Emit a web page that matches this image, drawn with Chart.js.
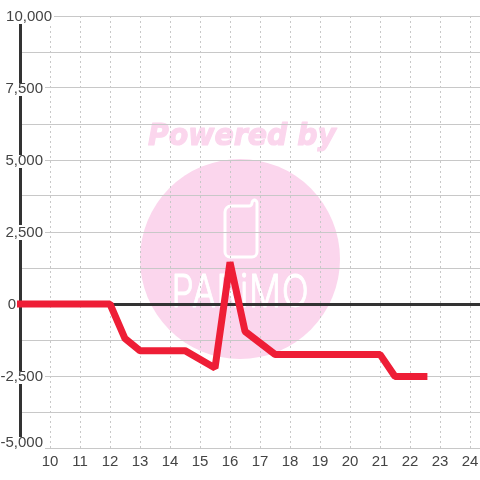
<!DOCTYPE html>
<html><head><meta charset="utf-8">
<style>html,body{margin:0;padding:0;background:#fff}#w{width:480px;height:480px;position:relative}</style>
<script src="https://cdn.jsdelivr.net/npm/chart.js@4"></script></head>
<body><div id="w"><canvas id="c" width="480" height="480"></canvas></div>
<script>
const hours = [8.9, 12, 12.5, 13, 14.5, 15.5, 16, 16.5, 17.5, 21, 21.5, 22.58];
const values = [0, 0, -1200, -1620, -1620, -2220, 1450, -950, -1750, -1750, -2520, -2520];
const yTickLabels = {"10000":"10,000","7500":"7,500","5000":"5,000","2500":"2,500","0":"0","-2500":"-2,500","-5000":"-5,000"};
const xTickLabels = [10,11,12,13,14,15,16,17,18,19,20,21,22,23,24];
const watermarkTop = "Powered by";
const watermarkLogo = "PARiMO";

const PINK = "#fbd6ed";
const watermark = {
  id: "watermark",
  beforeDraw(chart) {
    const c = chart.ctx; c.save();
    c.fillStyle = "#fff"; c.fillRect(0,0,480,480);
    c.fillStyle = PINK;
    c.beginPath(); c.arc(240,259,100,0,Math.PI*2); c.fill();
    c.font = "italic bold 30px 'DejaVu Sans'";
    c.textAlign = "center"; c.textBaseline = "alphabetic";
    c.save();
    c.translate(242,145); c.scale(0.945,1);
    c.strokeStyle = PINK; c.lineWidth = 1.2; c.lineJoin = "round";
    c.strokeText(watermarkTop,0,0);
    c.fillText(watermarkTop,0,0);
    c.restore();
    c.strokeStyle = "#fff"; c.lineWidth = 3; c.lineJoin="round"; c.lineCap="round";
    c.beginPath(); c.moveTo(232,206); c.lineTo(247,206); c.arcTo(252,206,252,203,3);
    c.arcTo(252,200,255,200,3); c.arcTo(257,200,257,203,3);
    c.lineTo(257,251); c.arcTo(257,257,251,257,5); c.lineTo(231,257); c.arcTo(225,257,225,251,5);
    c.lineTo(225,212); c.arcTo(225,206,232,206,6); c.stroke();
    c.fillStyle = "#fff"; c.strokeStyle = "#fff"; c.lineWidth = 0.9;
    c.save();
    c.translate(240.5,307); c.scale(0.79,1);
    c.font = "300 45px Inter";
    c.letterSpacing = "1px";
    c.textAlign = "center";
    c.strokeText(watermarkLogo,0,0);
    c.fillText(watermarkLogo,0,0);
    c.restore();
    c.restore();
  }
};
const yLabels = {
  id: "yLabels",
  afterDraw(chart) {
    const c = chart.ctx, s = chart.scales.y; c.save();
    c.font = "15px 'Liberation Sans'"; c.textBaseline = "middle"; c.textAlign = "right";
    s.ticks.forEach(t => {
      if (!t.label) return;
      const w = c.measureText(t.label).width;
      let y = s.getPixelForValue(t.value), r = 43;
      if (t.value === 10000) r = 52;
      if (t.value === 0) r = 16;
      if (t.value === -5000) y -= 6;
      c.fillStyle = "#fff";
      if (t.value !== 0) c.fillRect(r-w-1, y-5-(t.value===2500?2:0), w+3, 13+(t.value===2500?2:0));
      c.fillStyle = "#444"; c.fillText(t.label, r, y+1);
    });
    c.restore();
  }
};
new Chart(document.getElementById("c"), {
  type: "line",
  data: { datasets: [{
    data: hours.map((h,i)=>({x:h,y:values[i]})),
    borderColor: "#ee1e36", borderWidth: 7, pointRadius: 0, tension: 0, clip: false,
    borderJoinStyle: "bevel", borderCapStyle: "butt", fill: false
  }]},
  options: {
    responsive: false, animation: false,
    layout: { padding: { left: 20, top: 16, right: 0, bottom: 0 } },
    plugins: { legend:{display:false}, tooltip:{enabled:false} },
    scales: {
      x: { type:"linear", min:9, max:24.3333,
        afterBuildTicks(a){ a.ticks = xTickLabels.map(v=>({value:v})); },
        ticks:{ autoSkip:false, maxRotation:0, color:"#444", font:{family:"'Liberation Sans'",size:15}, padding:5, callback:v=>String(v) },
        grid:{ color:"#c8c8c8", lineWidth:1, drawTicks:false, tickLength:0 },
        border:{ display:false, dash:[2,3] },
        afterFit(a){ a.height = 32; a.paddingRight = 0; a.paddingLeft = 0; }
      },
      y: { min:-5000, max:10000,
        ticks:{ stepSize:1250, display:false, callback:v=>yTickLabels[String(v)]||"" },
        grid:{ color:c=>c.tick.value===0?"#333":"#c8c8c8", lineWidth:c=>c.tick.value===0?3:1, drawTicks:false, tickLength:0 },
        border:{ display:true, color:"#333", width:3 },
        afterFit(a){ a.width = 0; }
      }
    }
  },
  plugins:[watermark,yLabels]
});
</script></body></html>
